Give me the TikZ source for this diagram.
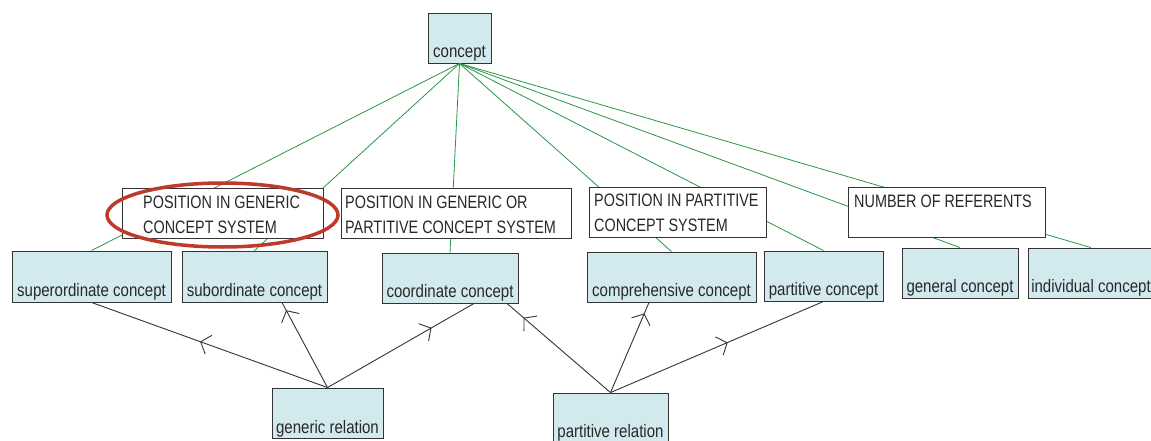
\documentclass[tikz,border=0pt]{standalone}
\usepackage{fontspec}
\setmainfont{Liberation Sans}[FakeStretch=0.835]
\newfontfamily\capfont{Liberation Sans}[FakeStretch=0.80]
\usetikzlibrary{arrows.meta,decorations.markings}
\definecolor{boxblue}{RGB}{210,234,238}
\definecolor{linkgreen}{RGB}{40,150,70}
\definecolor{hlred}{RGB}{190,58,42}
\definecolor{txt}{RGB}{40,40,40}
\begin{document}
\begin{tikzpicture}[x=1pt,y=-1pt,
  every node/.style={font=\fontsize{18}{24.5}\selectfont, text=txt},
  cbox/.style={draw=black!80, fill=boxblue, line width=0.9pt, inner sep=0pt,
    minimum height=50pt, text height=44pt, text depth=6pt},
  catbox/.style={draw=black!80, fill=white, line width=0.9pt, inner sep=0pt, minimum height=50pt},
  cattext/.style={anchor=base west, inner sep=0pt, align=left, font=\capfont\fontsize{18}{24.5}\selectfont},
  glink/.style={draw=linkgreen, line width=0.8pt},
  rel/.style={draw=black!80, line width=0.9pt, postaction={decorate},
    decoration={markings, mark=at position #1 with {\arrow{Straight Barb[length=8.5pt,width=20pt,line width=0.9pt]}}}},
  hl/.style={draw=hlred, line width=3.5pt}
]
\useasboundingbox (0,0) rectangle (1151,441);

% concept and subordinate concept boxes
\node[cbox, minimum width=63pt, text depth=5pt, text height=45pt] (con) at (459.5,38) {concept};
\node[cbox, minimum width=159pt, minimum height=51pt, text height=45pt] (sup) at (91.5,276.5) {superordinate concept};
\node[cbox, minimum width=145pt, minimum height=51pt, text height=45pt] (sub) at (254.5,276.5) {subordinate concept};
\node[cbox, minimum width=136pt] (coo) at (450,278) {coordinate concept};
\node[cbox, minimum width=169pt] (com) at (671.5,277) {comprehensive concept};
\node[cbox, minimum width=119pt] (pac) at (823.5,276) {partitive concept};
\node[cbox, minimum width=116pt] (gen) at (960,273) {general concept};
\node[cbox, minimum width=126pt] (ind) at (1091,273) {individual concept};
\node[cbox, minimum width=111pt, text depth=5pt, text height=45pt] (gr) at (327.5,413) {generic relation};
\node[cbox, minimum width=115pt] (pr) at (610.5,418) {partitive relation};

% green links
\foreach \t in {sup,sub,coo,com,pac,gen,ind}
  \draw[glink] (con.south) -- (\t.north);

% category boxes (cover the links)
\node[catbox, minimum width=201pt] (c1) at (222.5,213) {};
\node[cattext] (t1) at (143,233) {POSITION IN GENERIC\\CONCEPT SYSTEM};
\node[catbox, minimum width=230pt] (c2) at (456,213) {};
\node[cattext] (t2) at (345,233) {POSITION IN GENERIC OR\\PARTITIVE CONCEPT SYSTEM};
\node[catbox, minimum width=177pt] (c3) at (677.5,212) {};
\node[cattext] (t3) at (594,231) {POSITION IN PARTITIVE\\CONCEPT SYSTEM};
\node[catbox, minimum width=197pt] (c4) at (946.5,212) {};
\node[cattext] (t4) at (854,207) {NUMBER OF REFERENTS};

% relations
\draw[rel=0.54] (gr.north) -- (sup.south);
\draw[rel=0.91] (gr.north) -- ([xshift=27.5pt]sub.south);
\draw[rel=0.71] (gr.north) -- ([xshift=24pt]coo.south);
\draw[rel=0.84] (pr.north) -- ([xshift=57pt]coo.south);
\draw[rel=0.88] (pr.north) -- ([xshift=-22.5pt]com.south);
\draw[rel=0.55] (pr.north) -- (pac.south);

% highlight
\draw[hl] (222.5,215) ellipse [x radius=115.5, y radius=32];
\end{tikzpicture}
\end{document}
